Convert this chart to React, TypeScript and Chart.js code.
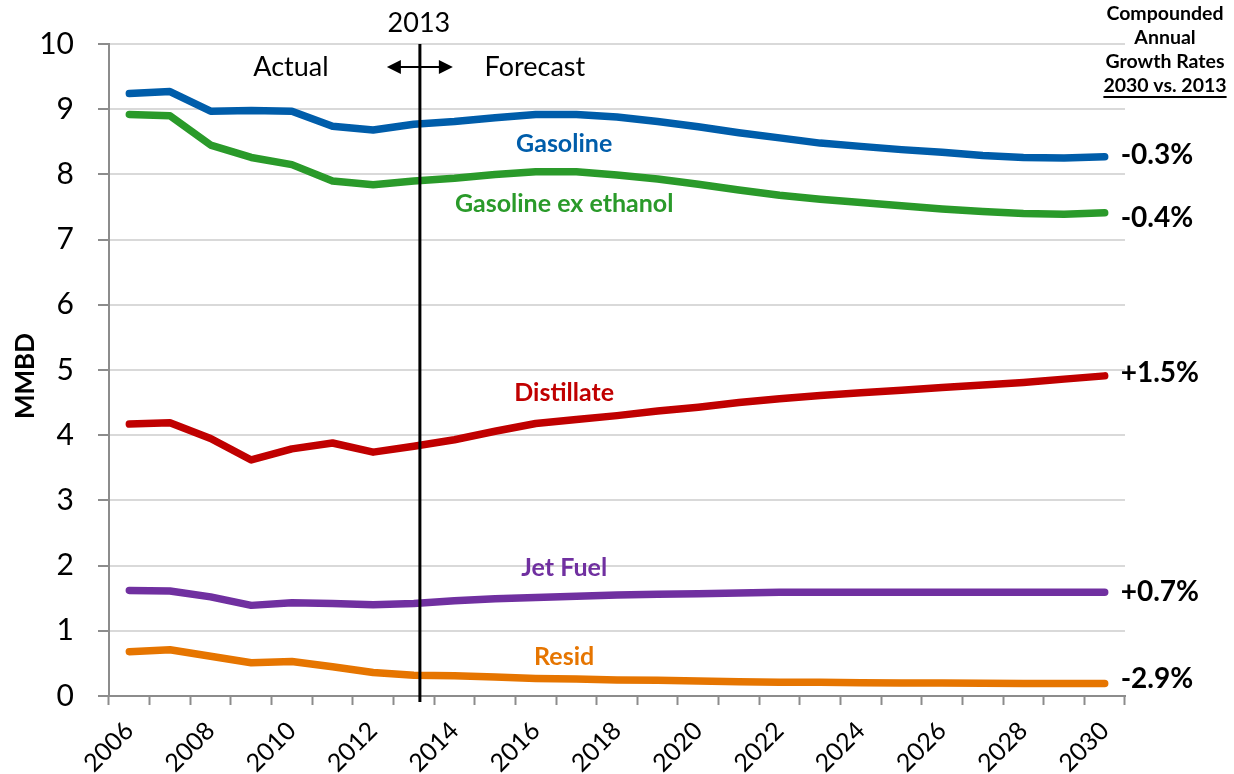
import React, { useEffect, useRef } from 'react';
import { Chart, registerables } from 'chart.js';

Chart.register(...registerables);

// Refined product demand, million barrels per day
const years = [
  '2006', '2007', '2008', '2009', '2010', '2011', '2012', '2013', '2014', '2015',
  '2016', '2017', '2018', '2019', '2020', '2021', '2022', '2023', '2024', '2025',
  '2026', '2027', '2028', '2029', '2030',
];

const gasoline = [
  9.24, 9.27, 8.97, 8.98, 8.97, 8.74, 8.68, 8.77, 8.81, 8.87,
  8.92, 8.92, 8.88, 8.81, 8.73, 8.64, 8.56, 8.48, 8.43, 8.38,
  8.34, 8.29, 8.26, 8.25, 8.27,
];

const gasolineExEthanol = [
  8.92, 8.9, 8.45, 8.26, 8.15, 7.9, 7.84, 7.9, 7.94, 8.0,
  8.04, 8.04, 7.99, 7.93, 7.85, 7.76, 7.68, 7.62, 7.57, 7.52,
  7.47, 7.43, 7.4, 7.39, 7.41,
];

const distillate = [
  4.17, 4.19, 3.95, 3.62, 3.79, 3.88, 3.74, 3.83, 3.93, 4.06,
  4.18, 4.24, 4.3, 4.37, 4.43, 4.5, 4.56, 4.61, 4.65, 4.69,
  4.73, 4.77, 4.81, 4.86, 4.91,
];

const jetFuel = [
  1.62, 1.61, 1.52, 1.39, 1.43, 1.42, 1.4, 1.42, 1.46, 1.49,
  1.51, 1.53, 1.55, 1.56, 1.57, 1.58, 1.59, 1.59, 1.59, 1.59,
  1.59, 1.59, 1.59, 1.59, 1.59,
];

const resid = [
  0.68, 0.71, 0.61, 0.51, 0.53, 0.45, 0.36, 0.32, 0.31, 0.29,
  0.27, 0.26, 0.245, 0.24, 0.23, 0.22, 0.21, 0.21, 0.205, 0.2,
  0.2, 0.195, 0.19, 0.19, 0.19,
];

const seriesNames = ['Gasoline', 'Gasoline ex ethanol', 'Distillate', 'Jet Fuel', 'Resid'];
const growthRates = ['-0.3%', '-0.4%', '+1.5%', '+0.7%', '-2.9%'];
const yTickValues = [0, 1, 2, 3, 4, 5, 6, 7, 8, 9, 10];
const forecastYear = '2013';
const headerLines = ['Compounded', 'Annual', 'Growth Rates', '2030 vs. 2013'];

const seriesColors = ['#005DAA', '#2A9A2A', '#C00000', '#7030A0', '#E67500'];
const FONT = 'Lato, "Open Sans", sans-serif';

// Where the in-chart series names sit: [category position, value]
const nameAnchors: [number, number][] = [
  [10.7, 8.47],
  [10.7, 7.55],
  [10.7, 4.655],
  [10.7, 1.96],
  [10.7, 0.6],
];
// vertical nudge (px) of each growth-rate label from its line end
const rateNudge = [-2, 5, -3, 0, -5];

const annotations = {
  id: 'annotations',
  afterDatasetsDraw(chart: Chart) {
    const { ctx, chartArea, scales } = chart;
    const x = scales.x;
    const y = scales.y;
    ctx.save();

    // forecast divider
    const idx = years.indexOf(forecastYear);
    const step = x.getPixelForValue(idx + 1) - x.getPixelForValue(idx);
    const divX = x.getPixelForValue(idx) + step * 0.15;
    ctx.strokeStyle = '#000';
    ctx.lineWidth = 3;
    ctx.beginPath();
    ctx.moveTo(divX, chartArea.top);
    ctx.lineTo(divX, chartArea.bottom + 6);
    ctx.stroke();

    ctx.fillStyle = '#000';
    ctx.textAlign = 'center';
    ctx.textBaseline = 'middle';
    ctx.font = `27px ${FONT}`;
    ctx.fillText(forecastYear, divX - 1, chartArea.top - 21);
    ctx.fillText('Actual', divX - 129, chartArea.top + 23);
    ctx.fillText('Forecast', divX + 115, chartArea.top + 23);

    // double-headed arrow across the divider
    const ay = chartArea.top + 23;
    const half = 33;
    const head = 14;
    ctx.lineWidth = 2;
    ctx.beginPath();
    ctx.moveTo(divX - half + head - 2, ay);
    ctx.lineTo(divX + half - head + 2, ay);
    ctx.stroke();
    ctx.beginPath();
    ctx.moveTo(divX - half, ay);
    ctx.lineTo(divX - half + head, ay - 7);
    ctx.lineTo(divX - half + head, ay + 7);
    ctx.closePath();
    ctx.fill();
    ctx.beginPath();
    ctx.moveTo(divX + half, ay);
    ctx.lineTo(divX + half - head, ay - 7);
    ctx.lineTo(divX + half - head, ay + 7);
    ctx.closePath();
    ctx.fill();

    // series names
    ctx.font = `bold 25px ${FONT}`;
    seriesNames.forEach((name, i) => {
      const [ci, v] = nameAnchors[i];
      ctx.fillStyle = seriesColors[i];
      ctx.fillText(name, x.getPixelForValue(ci), y.getPixelForValue(v));
    });

    // growth rates at line ends
    ctx.fillStyle = '#000';
    ctx.textAlign = 'left';
    ctx.font = `bold 28px ${FONT}`;
    const last = years.length - 1;
    chart.data.datasets.forEach((ds, i) => {
      const v = ds.data[last] as number;
      ctx.fillText(growthRates[i], x.getPixelForValue(last) + 16, y.getPixelForValue(v) + rateNudge[i]);
    });

    // header block
    ctx.textAlign = 'center';
    ctx.textBaseline = 'alphabetic';
    ctx.font = `bold 19.5px ${FONT}`;
    const hx = chart.width - 69;
    headerLines.forEach((line, i) => {
      ctx.fillText(line, hx, 20 + i * 24);
    });
    const w = ctx.measureText(headerLines[3]).width;
    ctx.fillRect(hx - w / 2, 20 + 3 * 24 + 4, w, 2);

    // axis title
    ctx.save();
    ctx.translate(26, (chartArea.top + chartArea.bottom) / 2 + 6);
    ctx.rotate(-Math.PI / 2);
    ctx.textAlign = 'center';
    ctx.textBaseline = 'middle';
    ctx.font = `bold 26px ${FONT}`;
    ctx.fillText('MMBD', 0, 0);
    ctx.restore();

    ctx.restore();
  },
};

export default function App() {
  const canvasRef = useRef<HTMLCanvasElement | null>(null);

  useEffect(() => {
    const canvas = canvasRef.current;
    if (!canvas) return;
    const series = [gasoline, gasolineExEthanol, distillate, jetFuel, resid];
    const chart = new Chart(canvas, {
      type: 'line',
      data: {
        labels: years,
        datasets: series.map((data, i) => ({
          label: seriesNames[i],
          data,
          borderColor: seriesColors[i],
          backgroundColor: seriesColors[i],
          borderWidth: 7.5,
          borderCapStyle: 'round' as const,
          borderJoinStyle: 'round' as const,
          pointRadius: 0,
          tension: 0,
          fill: false,
        })),
      },
      options: {
        responsive: false,
        animation: false,
        events: [],
        layout: { padding: { left: 0, right: 109, top: 44, bottom: 0 } },
        plugins: {
          legend: { display: false },
          tooltip: { enabled: false },
          title: { display: false },
        },
        scales: {
          x: {
            type: 'category',
            offset: true,
            afterFit(scale: any) {
              scale.height = 78;
            },
            grid: {
              offset: true,
              drawOnChartArea: false,
              drawTicks: true,
              tickLength: 9,
              tickColor: '#8C8C8C',
              tickWidth: 2,
            },
            border: { display: true, color: '#8C8C8C', width: 2 },
            ticks: {
              autoSkip: false,
              minRotation: 45,
              maxRotation: 45,
              padding: 11,
              color: '#000',
              font: { family: FONT, size: 25 },
              callback: (_v: any, i: number) => (i % 2 === 0 ? years[i] : ''),
            },
          },
          y: {
            min: 0,
            max: 10,
            afterFit(scale: any) {
              scale.width = 109;
            },
            afterBuildTicks(scale: any) {
              scale.ticks = yTickValues.map((value) => ({ value }));
            },
            grid: {
              color: '#D9D9D9',
              lineWidth: 2,
              drawTicks: true,
              tickLength: 11,
              tickColor: '#8C8C8C',
              tickWidth: 2,
            },
            border: { display: true, color: '#8C8C8C', width: 2 },
            ticks: {
              padding: 24,
              color: '#000',
              font: { family: FONT, size: 30 },
            },
          },
        },
      },
      plugins: [annotations],
    });
    return () => chart.destroy();
  }, []);

  return (
    <div style={{ position: 'absolute', left: 0, top: 0, width: 1234, height: 774, background: '#fff' }}>
      <canvas ref={canvasRef} width={1234} height={774} style={{ display: 'block' }} />
    </div>
  );
}
